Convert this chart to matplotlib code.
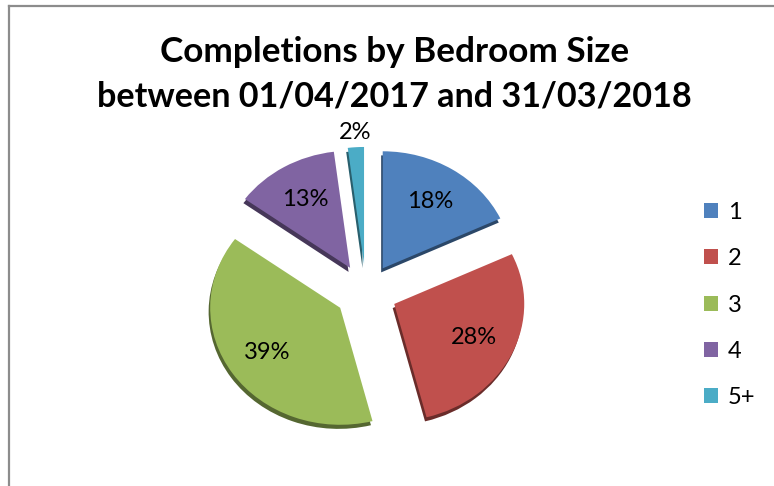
import matplotlib
matplotlib.use("Agg")
import matplotlib.pyplot as plt
import matplotlib.colors as mcolors
from matplotlib.lines import Line2D
import numpy as np

# data
bedrooms = ["1", "2", "3", "4", "5+"]
shares = [18, 28, 39, 13, 2]
colors = ["#4F81BD", "#C0504D", "#9BBB59", "#8064A2", "#4BACC6"]
title_lines = ["Completions by Bedroom Size", "between 01/04/2017 and 31/03/2018"]

W, H = 774, 486
plt.rcParams["font.family"] = ["Lato", "DejaVu Sans"]

fig = plt.figure(figsize=(W / 100, H / 100), dpi=100)

# chart frame (only left and top edges are visible in the crop)
frame = dict(color="#8c8c8c", lw=1.6, transform=fig.transFigure)
fig.add_artist(Line2D([8.5 / W, 8.5 / W], [0, 1 - 6 / H], **frame))
fig.add_artist(Line2D([8.5 / W, 1], [1 - 6 / H, 1 - 6 / H], **frame))

# pie axes: centre ~ (366, 292) px, rx ~130 px, ry ~117 px per unit
cx, cy, rx, ry = 366, 292, 130, 117
ax = fig.add_axes([(cx - 1.5 * rx) / W, (H - cy - 1.5 * ry) / H,
                   3 * rx / W, 3 * ry / H])

explode = [0.24] * len(shares)
dark = [tuple(np.array(mcolors.to_rgb(c)) * 0.55) for c in colors]

# darker copy underneath for the 3-D side
ax.pie(shares, colors=dark, explode=explode, startangle=90, counterclock=False,
       center=(-0.012, -0.035), wedgeprops=dict(linewidth=0))
wedges, _, pcts = ax.pie(shares, colors=colors, explode=explode, startangle=90,
                         counterclock=False, autopct="%d%%", pctdistance=0.68,
                         wedgeprops=dict(linewidth=0),
                         textprops=dict(fontsize=17, color="black"))

# the 2% label sits outside its thin slice
w = wedges[-1]
mid = np.deg2rad((w.theta1 + w.theta2) / 2)
pcts[-1].set_position((1.37 * np.cos(mid), 1.37 * np.sin(mid)))

ax.set_aspect("auto")
ax.set_xlim(-1.5, 1.5)
ax.set_ylim(-1.5, 1.5)
ax.axis("off")

fig.text(395 / W, 1 - 62 / H, title_lines[0], ha="center", va="baseline",
         fontsize=25.3, fontweight="bold")
fig.text(394 / W, 1 - 107 / H, title_lines[1], ha="center", va="baseline",
         fontsize=24.6, fontweight="bold")

fig.legend(wedges, bedrooms, loc="center left",
           bbox_to_anchor=(704 / W, 1 - 305 / H), frameon=False,
           fontsize=17, handlelength=0.59, handleheight=0.59,
           handletextpad=0.42, labelspacing=1.07, borderpad=0, borderaxespad=0)

fig.savefig("out.png", dpi=100)
